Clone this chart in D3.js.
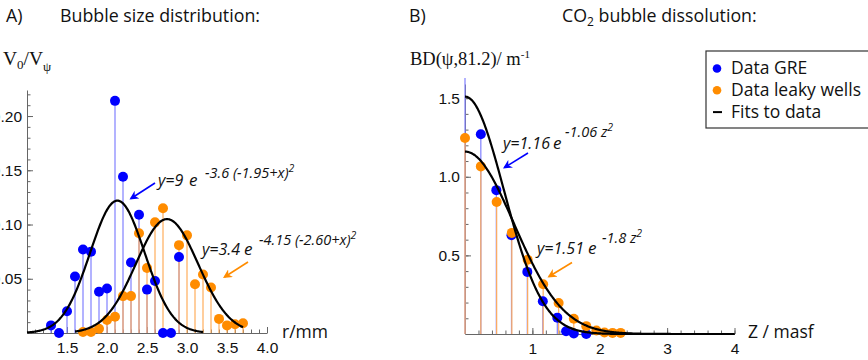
<!DOCTYPE html>
<html>
<head>
<meta charset="utf-8">
<script src="https://cdn.jsdelivr.net/npm/d3@7"></script>
<style>
  body { margin: 0; background: #fff; }
  svg { display: block; }
</style>
</head>
<body>
<div id="chart"></div>
<script>
// A) bubble size distribution, V0/Vpsi against r (mm)
const radiusGRE   = [1.3, 1.4, 1.5, 1.6, 1.7, 1.8, 1.9, 2.0, 2.1, 2.2, 2.3, 2.4, 2.5, 2.6, 2.7, 2.8, 2.9]
const volGRE      = [0.007, 0, 0.020, 0.052, 0.077, 0.075, 0.038, 0.041, 0.214, 0.144, 0.065, 0.109, 0.040, 0.048, 0, 0, 0.070]
const radiusLeaky = [1.7, 1.8, 1.9, 2.0, 2.1, 2.2, 2.3, 2.4, 2.5, 2.6, 2.7, 2.9, 3.0, 3.1, 3.2, 3.3, 3.4, 3.5, 3.6, 3.7]
const volLeaky    = [0.001, 0.001, 0.004, 0.012, 0.015, 0.034, 0.034, 0.092, 0.060, 0.102, 0.115, 0.081, 0.090, 0.045, 0.054, 0.042, 0.013, 0.007, 0.008, 0.009]

// B) CO2 bubble dissolution, BD against Z (masf)
const depthGRE   = [0, 0.235, 0.465, 0.69, 0.925, 1.155, 1.37, 1.5, 1.615, 1.8]
const bdGRE      = [1.75, 1.27, 0.915, 0.628, 0.395, 0.208, 0.104, 0.018, 0.003, 0]
const depthLeaky = [0, 0.235, 0.47, 0.695, 0.93, 1.16, 1.39, 1.615, 1.8, 1.95, 2.07, 2.19, 2.31]
const bdLeaky    = [1.247, 1.066, 0.84, 0.643, 0.472, 0.316, 0.197, 0.097, 0.05, 0.022, 0.01, 0.007, 0.007]

// gaussian fits y = a*exp(-k*(x-mu)^2) as drawn, with their x range
const fitsA = [
  {a: 0.122, k: 4.3, mu: 2.13, from: 1.0, to: 3.2},
  {a: 0.105, k: 3.3, mu: 2.75, from: 1.6, to: 3.7}
]
const fitsB = [
  {a: 1.51, k: 1.5, mu: 0, from: 0, to: 4},
  {a: 1.16, k: 0.95, mu: 0, from: 0, to: 4}
]

const ticksA_x = [1.5, 2.0, 2.5, 3.0, 3.5, 4.0]
const ticksA_y = [0.05, 0.10, 0.15, 0.20]
const ticksB_x = [1, 2, 3, 4]
const ticksB_y = [0.5, 1.0, 1.5]

const width = 868, height = 360
const blue = "#0000ff", orange = "#ff8c00"
const blueStem = "#8080ff", orangeStem = "#ffad5c"
const axisCol = "#666"
const sans = "'Open Sans', Lato, sans-serif"

const svg = d3.select("#chart").append("svg")
  .attr("width", width)
  .attr("height", height)
  .style("font-family", sans)

const defs = svg.append("defs")
;[["blue", blue], ["orange", orange]].forEach(([id, c]) => {
  defs.append("marker")
    .attr("id", "arr-" + id)
    .attr("viewBox", "0 0 10 10")
    .attr("refX", 8).attr("refY", 5)
    .attr("markerWidth", 9).attr("markerHeight", 9)
    .attr("markerUnits", "userSpaceOnUse")
    .attr("orient", "auto")
    .append("path")
      .attr("d", "M0,0 L10,5 L0,10 L3,5 Z")
      .attr("fill", c)
})
defs.append("clipPath").attr("id", "clipB")
  .append("rect").attr("x", 440).attr("y", 78).attr("width", 300).attr("height", 262)

// SCALES
const xA = d3.scaleLinear().domain([1.0, 4.0]).range([27, 267])
const yA = d3.scaleLinear().domain([0, 0.224]).range([333, 90])
const xB = d3.scaleLinear().domain([0, 4]).range([465, 734.5])
const yB = d3.scaleLinear().domain([0, 1.59]).range([334, 84])

function range(a, b, s) {
  const out = []
  for (let v = a; v <= b + 1e-9; v += s) out.push(+v.toFixed(3))
  return out
}

function drawAxes(g, x, y, xt, yt, xMinor, yMinor, xFmt, yFmt) {
  const xAxis = d3.axisBottom(x).tickValues(xt).tickFormat(xFmt).tickSizeInner(-6).tickSizeOuter(0).tickPadding(5)
  const yAxis = d3.axisLeft(y).tickValues(yt).tickFormat(yFmt).tickSizeInner(-6).tickSizeOuter(0).tickPadding(5)
  const gx = g.append("g").attr("transform", `translate(0,${y(0)})`).call(xAxis)
  const gy = g.append("g").attr("transform", `translate(${x.range()[0]},0)`).call(yAxis)
  g.append("g").attr("transform", `translate(0,${y(0)})`)
    .call(d3.axisBottom(x).tickValues(xMinor).tickFormat("").tickSizeInner(-3.5).tickSizeOuter(0))
    .call(a => a.select(".domain").remove())
  g.append("g").attr("transform", `translate(${x.range()[0]},0)`)
    .call(d3.axisLeft(y).tickValues(yMinor).tickFormat("").tickSizeInner(-3.5).tickSizeOuter(0))
    .call(a => a.select(".domain").remove())
  g.selectAll(".domain, .tick line").attr("stroke", axisCol)
  ;[gx, gy].forEach(a => a.selectAll("text")
    .attr("fill", "#111")
    .style("font-family", "'Liberation Sans', Arial, sans-serif")
    .style("font-size", "15.5px"))
  gx.selectAll("text").attr("dy", "0.95em")
}

function drawStems(g, x, y, xs, ys, stemCol) {
  const data = xs.map((v, i) => ({x: v, y: ys[i]}))
  g.append("g").selectAll("line")
    .data(data)
    .join("line")
      .attr("x1", d => x(d.x)).attr("x2", d => x(d.x))
      .attr("y1", y(0)).attr("y2", d => y(d.y))
      .attr("stroke", stemCol)
      .attr("stroke-width", 1.2)
  return data
}

function drawDots(g, x, y, data, col, r) {
  g.append("g").selectAll("circle")
    .data(data)
    .join("circle")
      .attr("cx", d => x(d.x))
      .attr("cy", d => y(d.y))
      .attr("r", r)
      .attr("fill", col)
}

function drawFit(g, x, y, f) {
  const pts = range(f.from, f.to, 0.01).map(v => [v, f.a * Math.exp(-f.k * (v - f.mu) ** 2)])
  g.append("path")
    .attr("d", d3.line().x(d => x(d[0])).y(d => y(d[1]))(pts))
    .attr("fill", "none")
    .attr("stroke", "#000")
    .attr("stroke-width", 2.2)
}

// fit label: "y=.. e" with its exponent as a superscript
function fitLabel(g, lab) {
  const t = g.append("text")
    .attr("y", lab.y)
    .style("font-style", "italic").style("font-size", "16px")
    .attr("fill", "#111")
  t.append("tspan").attr("x", lab.x).text(lab.pre)
  t.append("tspan").attr("x", lab.ex).style("font-size", "17px").text("e")
  t.append("tspan").attr("x", lab.sx).attr("dy", lab.sy)
    .style("font-size", "14.5px").text(lab.sup)
  t.append("tspan").attr("dy", -6).style("font-size", "10.5px").text("2")
}

function arrow(g, x1, y1, x2, y2, id, col) {
  g.append("line")
    .attr("x1", x1).attr("y1", y1).attr("x2", x2).attr("y2", y2)
    .attr("stroke", col).attr("stroke-width", 1.6)
    .attr("marker-end", `url(#arr-${id})`)
}

// PANEL A
const gA = svg.append("g")
drawAxes(gA, xA, yA, ticksA_x, ticksA_y, range(1.1, 4.0, 0.1), range(0.01, 0.22, 0.01),
  d3.format(".1f"), d3.format(".2f"))
const dGreA = drawStems(gA, xA, yA, radiusGRE, volGRE, blueStem)
const dLeakA = drawStems(gA, xA, yA, radiusLeaky, volLeaky, orangeStem)
drawDots(gA, xA, yA, dGreA, blue, 5)
drawDots(gA, xA, yA, dLeakA, orange, 5)
fitsA.forEach(f => drawFit(gA, xA, yA, f))

fitLabel(gA, {x: 158, y: 186, pre: "y=9", ex: 189, sx: 205, sy: -8, sup: "-3.6 (-1.95+x)"})
fitLabel(gA, {x: 202, y: 255, pre: "y=3.4", ex: 244, sx: 259, sy: -10, sup: "-4.15 (-2.60+x)"})
arrow(gA, 155, 183, 131, 198.5, "blue", blue)
arrow(gA, 248, 262, 224.5, 277, "orange", orange)

// PANEL B
const gB = svg.append("g")
drawAxes(gB, xB, yB, ticksB_x, ticksB_y, range(0.2, 4.0, 0.2), range(0.1, 1.5, 0.1),
  d3.format("d"), d3.format(".1f"))
const plotB = gB.append("g").attr("clip-path", "url(#clipB)")
const dGreB = drawStems(plotB, xB, yB, depthGRE, bdGRE, blueStem)
const dLeakB = drawStems(plotB, xB, yB, depthLeaky, bdLeaky, orangeStem)
drawDots(plotB, xB, yB, dGreB, blue, 5)
drawDots(plotB, xB, yB, dLeakB, orange, 5)
fitsB.forEach(f => drawFit(plotB, xB, yB, f))

fitLabel(gB, {x: 503, y: 149, pre: "y=1.16", ex: 553, sx: 565, sy: -12, sup: "-1.06 z"})
fitLabel(gB, {x: 537, y: 254, pre: "y=1.51", ex: 588, sx: 602, sy: -11, sup: "-1.8 z"})
arrow(gB, 528, 153, 504.5, 167.5, "blue", blue)
arrow(gB, 572, 262.5, 549, 276.5, "orange", orange)

// TITLES AND AXIS LABELS
const titles = [["A)", 6], ["Bubble size distribution:", 60], ["B)", 409]]
titles.forEach(([t, x]) => svg.append("text").attr("x", x).attr("y", 22)
  .style("font-size", "17.8px").attr("fill", "#111").text(t))
const co2 = svg.append("text").attr("x", 562).attr("y", 22)
  .style("font-size", "17.8px").attr("fill", "#111")
co2.append("tspan").text("CO")
co2.append("tspan").attr("dy", 4).style("font-size", "12px").text("2")
co2.append("tspan").attr("dy", -4).text(" bubble dissolution:")

const serif = "'Liberation Serif', 'Times New Roman', serif"
const vlab = svg.append("text").attr("x", 3).attr("y", 65)
  .style("font-family", serif).style("font-size", "19.5px").attr("fill", "#111")
vlab.append("tspan").text("V")
vlab.append("tspan").attr("dy", 4).style("font-size", "13px").text("0")
vlab.append("tspan").attr("dy", -4).text("/V")
vlab.append("tspan").attr("dy", 6).style("font-size", "13px").text("ψ")

const bdlab = svg.append("text").attr("x", 410).attr("y", 65)
  .style("font-family", serif).style("font-size", "18.5px").attr("fill", "#111")
bdlab.append("tspan").text("BD(ψ,81.2)/ m")
bdlab.append("tspan").attr("dy", -7).style("font-size", "11px").text("-1")

svg.append("text").attr("x", 282).attr("y", 338)
  .style("font-size", "17.5px").attr("fill", "#111").text("r/mm")
svg.append("text").attr("x", 748).attr("y", 338)
  .style("font-size", "17.5px").attr("fill", "#111").text("Z / masf")

// LEGEND
const legend = svg.append("g")
legend.append("rect")
  .attr("x", 706).attr("y", 51).attr("width", 170).attr("height", 77)
  .attr("fill", "#fff").attr("stroke", "#333").attr("stroke-width", 1.2)
const items = [["Data GRE", blue, "dot"], ["Data leaky wells", orange, "dot"], ["Fits to data", "#000", "line"]]
items.forEach(([label, col, kind], i) => {
  const cy = 68.5 + i * 21.8
  if (kind === "dot") legend.append("circle").attr("cx", 717).attr("cy", cy).attr("r", 4.3).attr("fill", col)
  else legend.append("line").attr("x1", 713).attr("x2", 722).attr("y1", cy).attr("y2", cy)
    .attr("stroke", col).attr("stroke-width", 2)
  legend.append("text").attr("x", 731).attr("y", cy + 5.5)
    .style("font-size", "17.5px").attr("fill", "#111").text(label)
})
</script>
</body>
</html>
